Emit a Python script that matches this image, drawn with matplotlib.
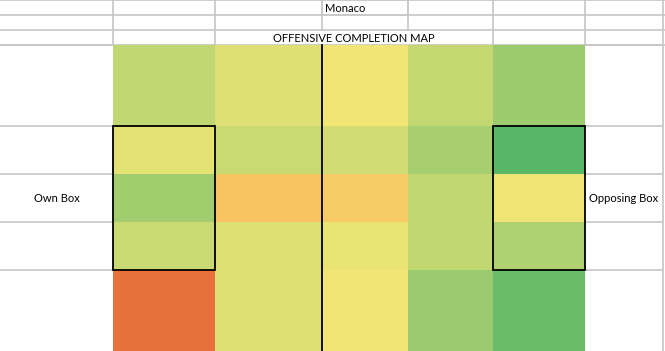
"""Offensive completion map, drawn like the spreadsheet it came from."""
import matplotlib
matplotlib.use("Agg")
import matplotlib.pyplot as plt
from matplotlib.colors import LinearSegmentedColormap, Normalize
from matplotlib.patches import Rectangle
import numpy as np

# completion % per zone (rows top -> bottom, columns own half -> opposing half)
zone_rows = ["Row 1", "Row 2", "Row 3", "Row 4", "Row 5"]
zone_cols = ["Own third", "Own mid", "Opp mid", "Opp mid-final", "Final third"]
row1 = [76.4, 72.4, 70.0, 76.0, 81.0]
row2 = [71.6, 75.0, 74.0, 79.6, 90.0]
row3 = [80.2, 66.0, 67.0, 76.4, 70.4]
row4 = [75.0, 72.6, 71.0, 76.4, 78.6]
row5 = [50.0, 72.4, 70.2, 81.4, 87.4]
team = "Monaco"
title = "OFFENSIVE COMPLETION MAP"

GRID = "#c6c6c6"
W, H = 665, 351

# sheet geometry in pixels
col_edges = [0, 113, 215, 322, 408, 493, 585, 663]
row_edges = [0, 15, 30, 45, 126, 174, 222, 270, 351]

values = np.array([row1, row2, row3, row4, row5])
cmap = LinearSegmentedColormap.from_list(
    "excel", [(0.0, "#e8703a"), (0.4, "#f8c462"), (0.5, "#f2e675"), (1.0, "#57b668")])
norm = Normalize(vmin=50, vmax=90)

fig = plt.figure(figsize=(W / 100, H / 100), dpi=100)
ax = fig.add_axes([0, 0, 1, 1])
ax.set_xlim(0, W); ax.set_ylim(H, 0); ax.axis('off')

# spreadsheet grid
for y in row_edges[:4]:
    ax.plot([0, W], [y, y], color=GRID, lw=1.2)
for y in row_edges[4:-1]:
    ax.plot([0, 113], [y, y], color=GRID, lw=1.2)
    ax.plot([585, 663], [y, y], color=GRID, lw=1.2)
ax.plot([0, 113], [45, 45], color=GRID, lw=1.2)
ax.plot([585, 663], [45, 45], color=GRID, lw=1.2)
for x in col_edges[1:]:
    ax.plot([x, x], [0, 30], color=GRID, lw=1.2)
for x in [113, 215, 493, 585, 663]:
    ax.plot([x, x], [30, 45], color=GRID, lw=1.2)
ax.plot([663, 663], [45, H], color=GRID, lw=1.2)
# selected "Monaco" cell border
ax.add_patch(Rectangle((322, 0), 86, 15, fill=False, edgecolor="#d3dfc6", lw=1.2))

# heatmap cells
ax.pcolormesh(col_edges[1:-1], row_edges[3:], values, cmap=cmap, norm=norm,
              shading='flat', zorder=2)

# black outlines: the two boxes and halfway line
ax.add_patch(Rectangle((113, 126), 102, 144, fill=False, edgecolor='black', lw=1.3, zorder=3))
ax.add_patch(Rectangle((493, 126), 92, 144, fill=False, edgecolor='black', lw=1.3, zorder=3))
ax.plot([322, 322], [45, H], color='black', lw=1.3, zorder=3)

font = dict(family='Lato', fontsize=8, color='black')
ax.text(325, 8, team, ha='left', va='center', **font)
ax.text(354, 38, title, ha='center', va='center', **font)
ax.text(56.5, 198, "Own Box", ha='center', va='center', **font)
ax.text(589, 198, "Opposing Box", ha='left', va='center', **font)

plt.savefig("out.png", dpi=100, facecolor='white')
plt.close()
